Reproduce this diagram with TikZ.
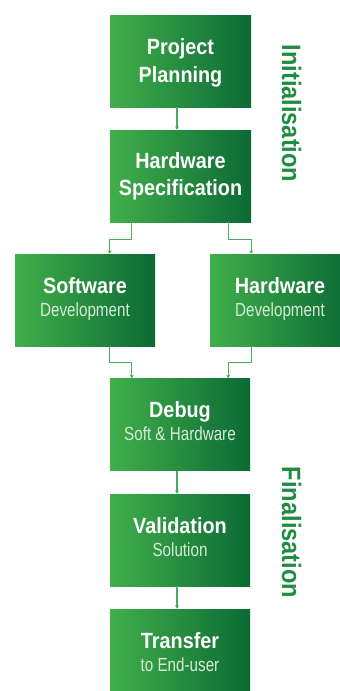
\documentclass[tikz,border=0pt]{standalone}
\usepackage{fontspec}
\setmainfont{Liberation Sans}
\newfontfamily\titlefont[FakeStretch=0.9]{Liberation Sans}
\newfontfamily\subfont[FakeStretch=0.8]{Liberation Sans}
\newfontfamily\sidefont[FakeStretch=0.89]{Liberation Sans}
\usetikzlibrary{arrows.meta,calc}
\definecolor{gleft}{HTML}{40AF4A}
\definecolor{gright}{HTML}{0C6A35}
\definecolor{conncol}{HTML}{4AAA5E}
\definecolor{subcol}{HTML}{D6ECD6}
\definecolor{sidecol}{HTML}{1E8C42}
\tikzset{
  box/.style={rectangle, inner sep=0pt, minimum height=92pt, left color=gleft, right color=gright, draw=none},
  wbox/.style={box, minimum width=141pt},
  nbox/.style={box, minimum width=140pt},
  ttl/.style={anchor=base, inner sep=0pt, text=white, font=\titlefont\bfseries\fontsize{22}{24}\selectfont},
  sub/.style={anchor=base, inner sep=0pt, text=subcol, font=\subfont\fontsize{19}{21}\selectfont},
  side/.style={rotate=-90, inner sep=0pt, text=sidecol, font=\sidefont\bfseries\fontsize{26.5}{28}\selectfont},
  conn/.style={draw=conncol, line width=1.3pt, -{Stealth[length=3.5pt,width=4pt]}}
}
\begin{document}
\begin{tikzpicture}[x=1pt,y=-1pt]
\useasboundingbox (0,0) rectangle (340,691);
% boxes
\node[wbox] (pp) at (180.5,61) {};
\node[wbox] (hs) at (180.5,176) {};
\node[nbox] (sw) at (85,300) {};
\node[nbox] (hw) at (280,300) {};
\node[nbox] (db) at (180,424.5) {};
\node[nbox] (va) at (180,540) {};
\node[nbox] (tr) at (180,655) {};
% texts
\node[ttl] (pp1) at ([yshift=7pt]pp.center) {Project};
\node[ttl] (pp2) at ([yshift=-21pt]pp.center) {Planning};
\node[ttl] (hs1) at ([yshift=8pt]hs.center) {Hardware};
\node[ttl] (hs2) at ([yshift=-19pt]hs.center) {Specification};
\node[ttl] (sw1) at ([yshift=7pt]sw.center) {Software};
\node[sub] (sw2) at ([yshift=-16pt]sw.center) {Development};
\node[ttl] (hw1) at ([yshift=7pt]hw.center) {Hardware};
\node[sub] (hw2) at ([yshift=-16pt]hw.center) {Development};
\node[ttl] (db1) at ([yshift=7.5pt]db.center) {Debug};
\node[sub] (db2) at ([yshift=-15.5pt]db.center) {Soft \& Hardware};
\node[ttl] (va1) at ([yshift=7pt]va.center) {Validation};
\node[sub] (va2) at ([yshift=-16pt]va.center) {Solution};
\node[ttl] (tr1) at ([yshift=7pt]tr.center) {Transfer};
\node[sub] (tr2) at ([yshift=-16pt]tr.center) {to End-user};
% side labels
\node[side] (init) at (291.5,113.5) {Initialisation};
\node[side] (fin) at (291.5,532.5) {Finalisation};
% connectors
\draw[conn] ([xshift=-3.5pt]pp.south) -- ([xshift=-3.5pt]hs.north);
\draw[conn] ([xshift=22pt]hs.south west) -- ++(0,17) -| (hs.south west |- sw.north);
\draw[conn] ([xshift=-23pt]hs.south east) -- ++(0,17) -| (hs.south east |- hw.north);
\draw[conn] (db.west |- sw.south) -- ++(0,16) -| ([xshift=22pt]db.north west);
\draw[conn] ([xshift=1pt]db.east |- hw.south) -- ++(0,16) -| ([xshift=-22pt]db.north east);
\draw[conn] ([xshift=-3pt]db.south) -- ([xshift=-3pt]va.north);
\draw[conn] ([xshift=-3pt]va.south) -- ([xshift=-3pt]tr.north);
\end{tikzpicture}
\end{document}
